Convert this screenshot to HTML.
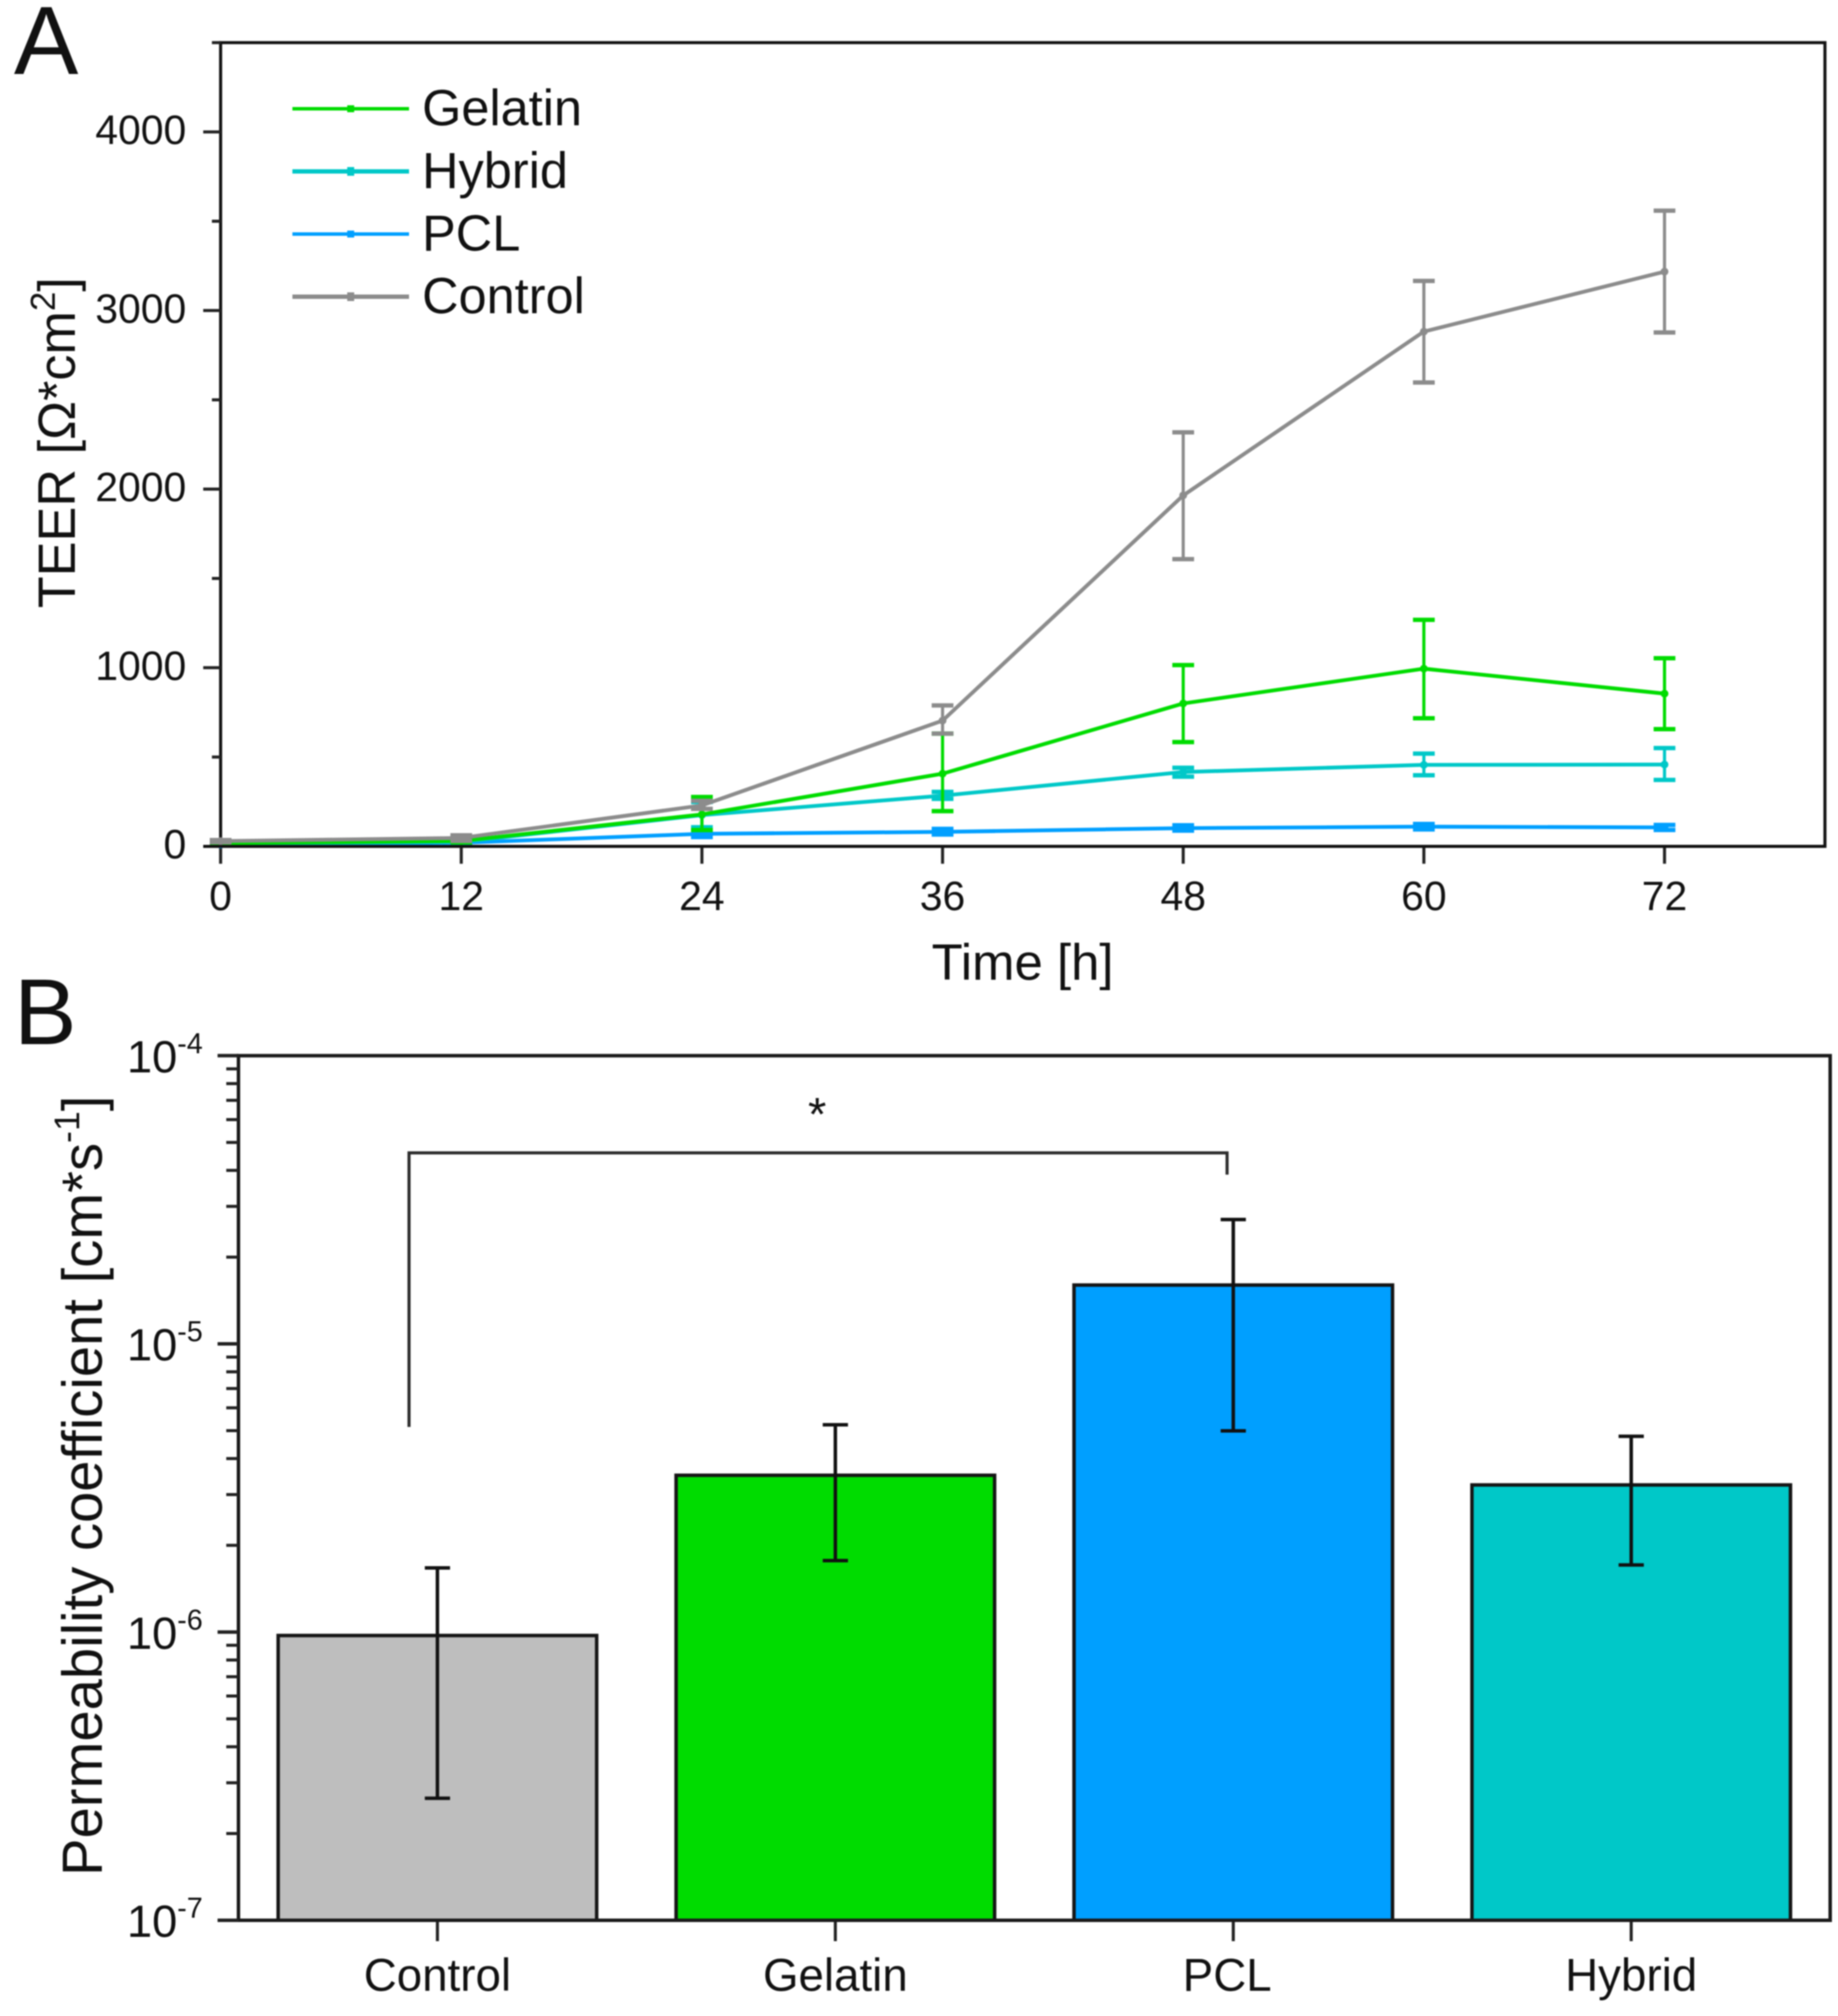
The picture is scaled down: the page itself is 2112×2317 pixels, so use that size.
<!DOCTYPE html>
<html lang="en">
<head>
<meta charset="utf-8">
<title>TEER and permeability coefficient</title>
<style>
html,body{margin:0;padding:0;background:#fff;}
svg{display:block;filter:blur(0.8px);}
text{font-family:"Liberation Sans",Arial,sans-serif;fill:#111;}
</style>
</head>
<body>
<svg id="figure" xmlns="http://www.w3.org/2000/svg" width="2112" height="2317" viewBox="0 0 2112 2317">
  <rect x="0" y="0" width="2112" height="2317" fill="#fff"/>
  <text x="16" y="85" font-size="111">A</text>
  <text x="16" y="1200" font-size="108">B</text>

  <g id="panelA"></g>
  <g id="panelB"></g>

  <text x="1175" y="1126" font-size="58.5" text-anchor="middle">Time [h]</text>
  <text transform="translate(86 699) rotate(-90)" font-size="60">TEER [Ω*cm<tspan font-size="40" dy="-23">2</tspan><tspan dy="23">]</tspan></text>
  <text transform="translate(117 2156) rotate(-90)" font-size="64.6">Permeability coefficient [cm*s<tspan font-size="41" dy="-26">-1</tspan><tspan dy="26">]</tspan></text>

  <g>
    <g>
      <line x1="336" x2="470" y1="125" y2="125" stroke="#00dc00" stroke-width="4"/>
      <rect x="399" y="121" width="8" height="8" fill="#00dc00"/>
      <text x="485" y="144" font-size="58">Gelatin</text>
    </g>
    <g>
      <line x1="336" x2="470" y1="197" y2="197" stroke="#00c8c8" stroke-width="5"/>
      <rect x="399" y="192" width="8" height="10" fill="#00c8c8"/>
      <text x="485" y="216" font-size="58">Hybrid</text>
    </g>
    <g>
      <line x1="336" x2="470" y1="269" y2="269" stroke="#009fff" stroke-width="4"/>
      <rect x="399" y="265" width="8" height="8" fill="#009fff"/>
      <text x="485" y="288" font-size="58">PCL</text>
    </g>
    <g>
      <line x1="336" x2="470" y1="341" y2="341" stroke="#8c8c8c" stroke-width="5"/>
      <rect x="399" y="336" width="8" height="10" fill="#8c8c8c"/>
      <text x="485" y="360" font-size="58">Control</text>
    </g>
  </g>

  <g>
    <path d="M470 1640 V1325 H1410 V1350" fill="none" stroke="#2a2a2a" stroke-width="3.5"/>
    <text x="939" y="1299" font-size="54" text-anchor="middle">*</text>
  </g>
</svg>

<script>
// ---- Panel A data ----
const hours = [0, 12, 24, 36, 48, 60, 72];
const gelatinMean = [18, 30, 179, 407, 800, 995, 855];
const gelatinUpper = [22, 38, 276, 631, 1015, 1268, 1053];
const gelatinLower = [14, 22, 91, 197, 584, 717, 656];
const hybridMean = [15, 25, 175, 284, 416, 456, 458];
const hybridUpper = [18, 30, 248, 305, 440, 519, 550];
const hybridLower = [12, 20, 107, 266, 390, 398, 372];
const pclMean = [10, 20, 70, 81, 102, 110, 106];
const pclUpper = [13, 25, 90, 98, 118, 125, 120];
const pclLower = [7, 15, 52, 66, 88, 95, 92];
const controlMean = [29, 47, 229, 704, 1965, 2882, 3218];
const controlUpper = [35, 62, 255, 789, 2318, 3166, 3559];
const controlLower = [23, 30, 210, 631, 1608, 2597, 2877];
const xTickHours = [0, 12, 24, 36, 48, 60, 72];
const yTickTeer = [0, 500, 1000, 1500, 2000, 2500, 3000, 3500, 4000, 4500];

// ---- Panel B data ----
const categories = ['Control', 'Gelatin', 'PCL', 'Hybrid'];
const permMean = [9.73e-7, 3.5e-6, 1.6e-5, 3.24e-6];
const permUpper = [1.67e-6, 5.24e-6, 2.7e-5, 4.78e-6];
const permLower = [2.65e-7, 1.77e-6, 4.99e-6, 1.71e-6];
const logDecades = [-7, -6, -5, -4];
const logMinorMultipliers = [2, 3, 4, 5, 6, 7, 8, 9];

const NS = 'http://www.w3.org/2000/svg';
function mk(parent, tag, attrs) {
  const e = document.createElementNS(NS, tag);
  for (const k in attrs) e.setAttribute(k, attrs[k]);
  parent.appendChild(e);
  return e;
}

// ---- Panel A axes ----
const A = { left: 253.5, right: 2097, top: 49, bottom: 972.7, xMax: 80, yMax: 4500 };
const xA = h => A.left + (h / A.xMax) * (A.right - A.left);
const yA = v => A.bottom - (v / A.yMax) * (A.bottom - A.top);
const panelA = document.getElementById('panelA');

const frameA = mk(panelA, 'rect', { x: A.left, y: A.top, width: A.right - A.left, height: A.bottom - A.top, fill: 'none', stroke: '#111', 'stroke-width': 3.5 });



yTickTeer.forEach(v => {
  const major = v % 1000 === 0;
  const t = mk(panelA, 'line', { x1: A.left - (major ? 20 : 10), x2: A.left, y1: yA(v), y2: yA(v), stroke: '#222', 'stroke-width': 3.5 });
  
  
  if (major) {
    const l = mk(panelA, 'text', { x: 214, y: yA(v) + 14, 'font-size': 47, 'text-anchor': 'end' });
    l.textContent = String(v);
    
    
  }
});
xTickHours.forEach(h => {
  const t = mk(panelA, 'line', { x1: xA(h), x2: xA(h), y1: A.bottom, y2: A.bottom + 20, stroke: '#222', 'stroke-width': 3.5 });
  
  
  const l = mk(panelA, 'text', { x: xA(h), y: 1046, 'font-size': 47, 'text-anchor': 'middle' });
  l.textContent = String(h);
  
  
});

function drawSeries(key, color, mean, upper, lower) {
  const g = mk(panelA, 'g', {});
  
  
  const pts = hours.map((h, i) => xA(h).toFixed(1) + ',' + yA(mean[i]).toFixed(1)).join(' ');
  hours.forEach((h, i) => {
    const x = xA(h), hi = yA(upper[i]), lo = yA(lower[i]);
    const stem = mk(g, 'line', { x1: x, x2: x, y1: hi, y2: lo, stroke: color, 'stroke-width': 3.6 });
    
    
    const caps = mk(g, 'path', { d: 'M' + (x - 12.5) + ' ' + hi + 'H' + (x + 12.5) + 'M' + (x - 12.5) + ' ' + lo + 'H' + (x + 12.5), fill: 'none', stroke: color, 'stroke-width': 5 });
    
    
  });
  const line = mk(g, 'polyline', { points: pts, fill: 'none', stroke: color, 'stroke-width': 4.4, 'stroke-linejoin': 'round' });
  
  
  hours.forEach((h, i) => {
    const m = mk(g, 'circle', { cx: xA(h), cy: yA(mean[i]), r: 4.5, fill: color });
    
    
  });
}
drawSeries('pcl', '#009fff', pclMean, pclUpper, pclLower);
drawSeries('hybrid', '#00c8c8', hybridMean, hybridUpper, hybridLower);
drawSeries('gelatin', '#00dc00', gelatinMean, gelatinUpper, gelatinLower);
drawSeries('control', '#8c8c8c', controlMean, controlUpper, controlLower);

const spineA = mk(panelA, 'line', { x1: A.left - 20, x2: A.right, y1: A.bottom, y2: A.bottom, stroke: '#111', 'stroke-width': 3.5 });



// ---- Panel B axes ----
const B = { left: 274, right: 2103, top: 1213.3, bottom: 2207, bandStart: -0.5, bandEnd: 3.5, logMin: -7, logMax: -4, barWidth: 366 };
const xB = i => B.left + ((i - B.bandStart) / (B.bandEnd - B.bandStart)) * (B.right - B.left);
const yB = v => B.bottom - ((Math.log10(v) - B.logMin) / (B.logMax - B.logMin)) * (B.bottom - B.top);
const panelB = document.getElementById('panelB');
const barColors = ['#bebebe', '#00dc00', '#009fff', '#00c8c8'];

categories.forEach((c, i) => {
  const key = c.toLowerCase();
  const bar = mk(panelB, 'rect', { x: xB(i) - B.barWidth / 2, y: yB(permMean[i]), width: B.barWidth, height: B.bottom - yB(permMean[i]), fill: barColors[i], stroke: '#151515', 'stroke-width': 4 });
  
  
  const x = xB(i), hi = yB(permUpper[i]), lo = yB(permLower[i]);
  const err = mk(panelB, 'path', { d: 'M' + (x - 14.5) + ' ' + hi + 'H' + (x + 14.5) + 'M' + x + ' ' + hi + 'V' + lo + 'M' + (x - 14.5) + ' ' + lo + 'H' + (x + 14.5), fill: 'none', stroke: '#111', 'stroke-width': 4 });
  
  
  const t = mk(panelB, 'line', { x1: x, x2: x, y1: B.bottom, y2: B.bottom + 24, stroke: '#222', 'stroke-width': 3.5 });
  
  
  const l = mk(panelB, 'text', { x: x - (c === 'PCL' ? 7 : 0), y: 2288, 'font-size': 52.5, 'text-anchor': 'middle' });
  l.textContent = c;
  
  
});

const frameB = mk(panelB, 'rect', { x: B.left, y: B.top, width: B.right - B.left, height: B.bottom - B.top, fill: 'none', stroke: '#1a1a1a', 'stroke-width': 4 });



logDecades.forEach(d => {
  const y = yB(Math.pow(10, d));
  const t = mk(panelB, 'line', { x1: B.left - 24, x2: B.left, y1: y, y2: y, stroke: '#222', 'stroke-width': 4 });
  
  
  const l = mk(panelB, 'text', { x: 233, y: y + 19, 'font-size': 52, 'text-anchor': 'end' });
  const base = mk(l, 'tspan', {});
  base.textContent = '10';
  const sup = mk(l, 'tspan', { 'font-size': 33, dy: -22 });
  sup.textContent = String(d);
  
  
  if (d < B.logMax) {
    logMinorMultipliers.forEach(m => {
      const my = yB(m * Math.pow(10, d));
      const mt = mk(panelB, 'line', { x1: B.left - 14, x2: B.left, y1: my, y2: my, stroke: '#222', 'stroke-width': 3.5 });
      
      
    });
  }
});
</script>
</body>
</html>
